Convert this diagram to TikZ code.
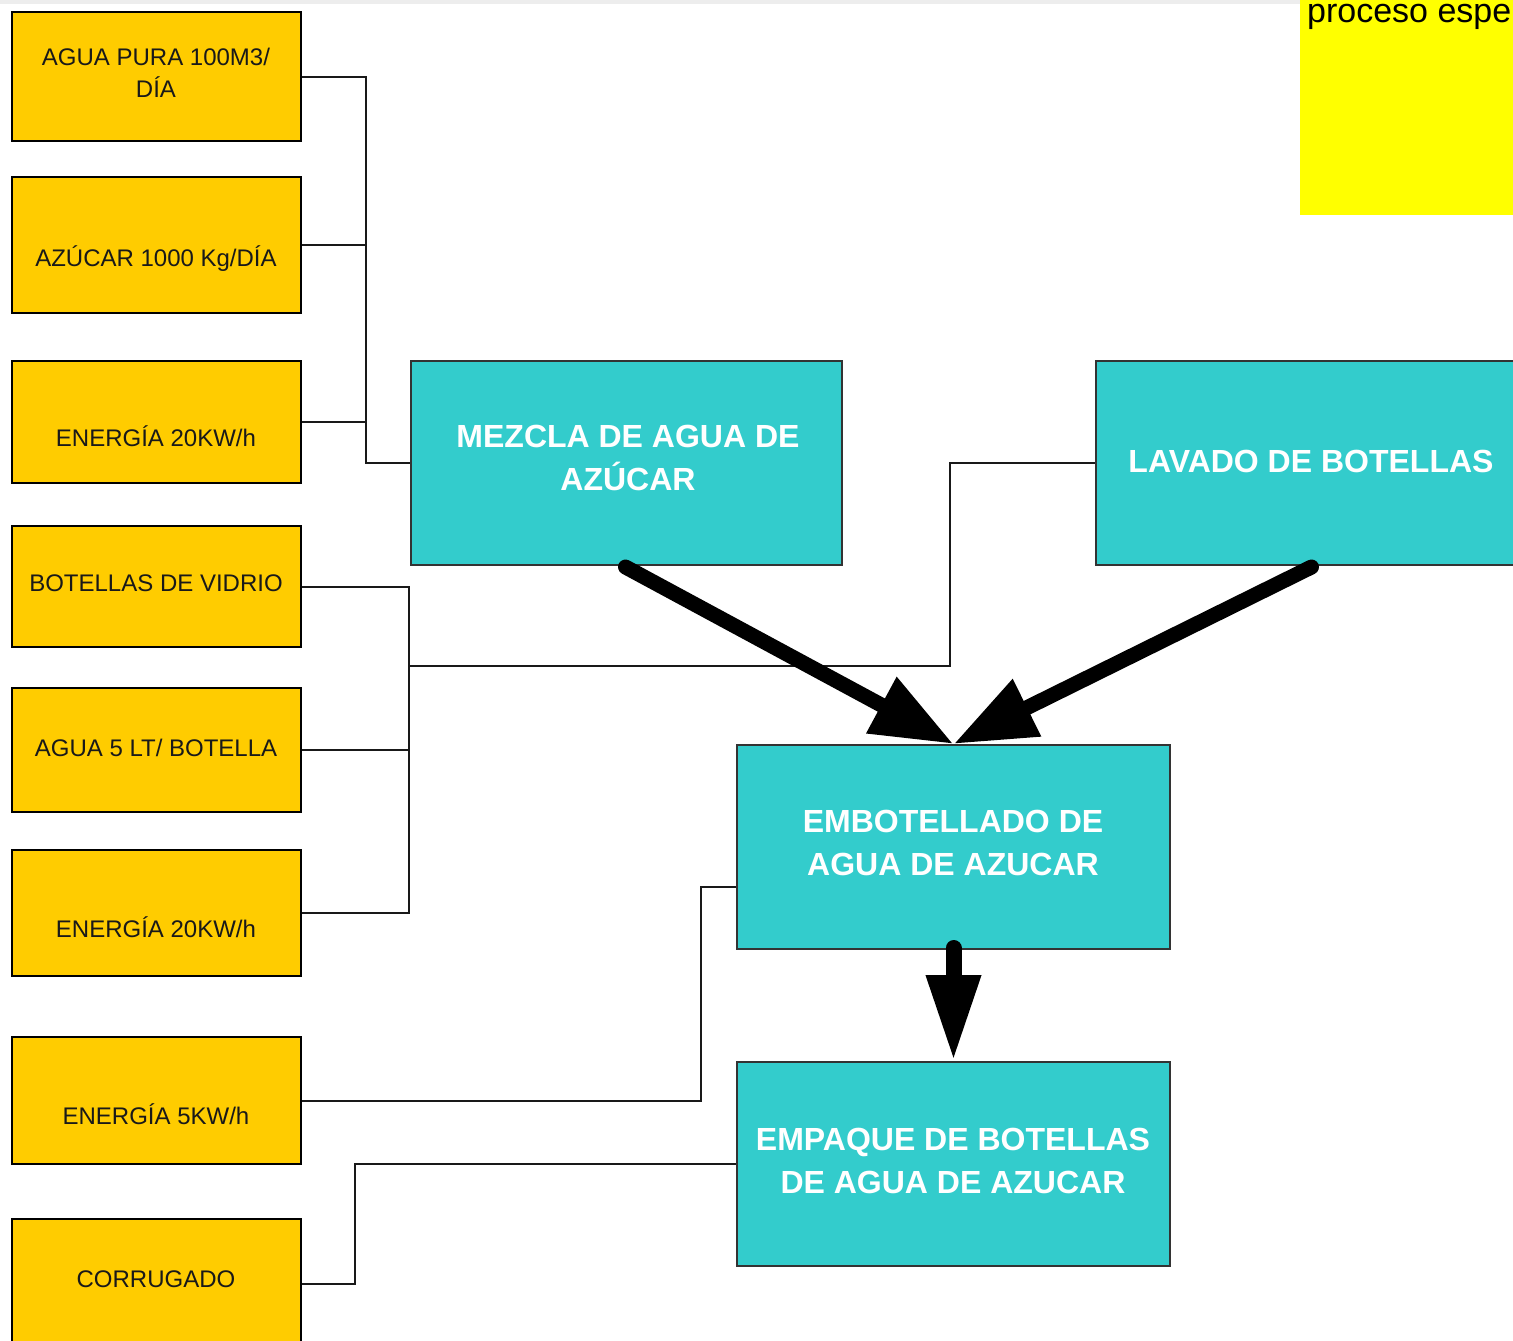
\documentclass[tikz,border=0pt]{standalone}
\usepackage{fontspec}
\setmainfont{Liberation Sans}
\usetikzlibrary{arrows.meta,calc}
\definecolor{ybox}{HTML}{FFCC00}
\definecolor{tbox}{HTML}{33CCCC}
\definecolor{notey}{HTML}{FFFF00}
\begin{document}
\begin{tikzpicture}[x=1pt,y=-1pt,
  ybox/.style={draw=black,line width=2pt,fill=ybox,minimum width=289pt,inner sep=0pt,anchor=north west},
  tbox/.style={draw=black!80,line width=2pt,fill=tbox,inner sep=0pt,anchor=north west},
  ytext/.style={font=\fontsize{24}{32}\selectfont,align=center,text=black!90,inner sep=0pt},
  ttext/.style={font=\fontsize{32}{43}\selectfont\bfseries,align=center,text=white,inner sep=0pt},
  conn/.style={line width=2pt,black!90},
  bigarrow/.style={line width=15pt,line cap=round,-{Triangle[length=82pt,width=60pt]}},
]
\useasboundingbox (0,0) rectangle (1513,1341);
\clip (0,0) rectangle (1513,1341);
\fill[white] (0,0) rectangle (1513,1341);
\fill[black!7] (0,0) rectangle (1513,4);

% yellow note
\node[fill=notey,minimum width=230pt,minimum height=226pt,inner sep=0pt,anchor=north west] (note) at (1300,-11) {};
\node[font=\fontsize{34}{40}\selectfont,anchor=base west,inner sep=0pt] (notetxt) at (1307,23) {proceso espe};

% input boxes
\node[ybox,minimum height=129pt] (b1) at (11,11) {};
\node[ybox,minimum height=136pt] (b2) at (11,176) {};
\node[ybox,minimum height=122pt] (b3) at (11,360) {};
\node[ybox,minimum height=121pt] (b4) at (11,525) {};
\node[ybox,minimum height=124pt] (b5) at (11,687) {};
\node[ybox,minimum height=126pt] (b6) at (11,849) {};
\node[ybox,minimum height=127pt] (b7) at (11,1036) {};
\node[ybox,minimum height=130pt] (b8) at (11,1218) {};

\node[ytext] (t1) at (156,73) {AGUA PURA 100M3/\\DÍA};
\node[ytext] (t2) at (156,259) {AZÚCAR 1000 Kg/DÍA};
\node[ytext] (t3) at (156,436) {ENERGÍA 20KW/h};
\node[ytext] (t4) at (156,583) {BOTELLAS DE VIDRIO};
\node[ytext] (t5) at (156,748) {AGUA 5 LT/ BOTELLA};
\node[ytext] (t6) at (156,927) {ENERGÍA 20KW/h};
\node[ytext] (t7) at (156,1114) {ENERGÍA 5KW/h};
\node[ytext] (t8) at (156,1279) {CORRUGADO};

% process boxes
\node[tbox,minimum width=431pt,minimum height=204pt] (mez) at (410,360) {};
\node[tbox,minimum width=431pt,minimum height=204pt] (lav) at (1095,360) {};
\node[tbox,minimum width=433pt,minimum height=204pt] (emb) at (736,744) {};
\node[tbox,minimum width=433pt,minimum height=204pt] (emp) at (736,1061) {};

\node[ttext] (tm) at (628,458) {MEZCLA DE AGUA DE\\AZÚCAR};
\node[ttext] (tl) at (1311,461) {LAVADO DE BOTELLAS};
\node[ttext] (te) at (953,843) {EMBOTELLADO DE\\AGUA DE AZUCAR};
\node[ttext] (tp) at (953,1161) {EMPAQUE DE BOTELLAS\\DE AGUA DE AZUCAR};

% connectors
\coordinate (j1) at (366,0);
\coordinate (j2) at (409,0);
\coordinate (br) at (409,666);
\coordinate (j3) at (950,666);
\coordinate (j7) at (701,0);
\coordinate (j8) at (355,0);

\draw[conn] (b1.east) -| (j1 |- mez.west) -- (mez.west);
\draw[conn] (b2.east) -- (b2.east -| j1);
\draw[conn] (b3.east) -- (b3.east -| j1);

\draw[conn] (b4.east) -| (j2 |- b6.east) -- (b6.east);
\draw[conn] (b5.east) -- (b5.east -| j2);
\draw[conn] (br) -- (j3) |- (lav.west);

\draw[conn] (b7.east) -- (b7.east -| j7) |- ([yshift=-40pt]emb.west);
\draw[conn] (b8.east) -| (j8 |- emp.west) -- (emp.west);

% thick arrows
\draw[bigarrow] ([xshift=-1pt,yshift=-1pt]mez.south) -- (emb.north);
\draw[bigarrow] ([yshift=-1pt]lav.south) -- (emb.north);
\draw[line width=16pt,line cap=round,-{Triangle[length=86pt,width=51pt]}] ([yshift=2pt]emb.south) -- (emp.north);
\end{tikzpicture}
\end{document}
